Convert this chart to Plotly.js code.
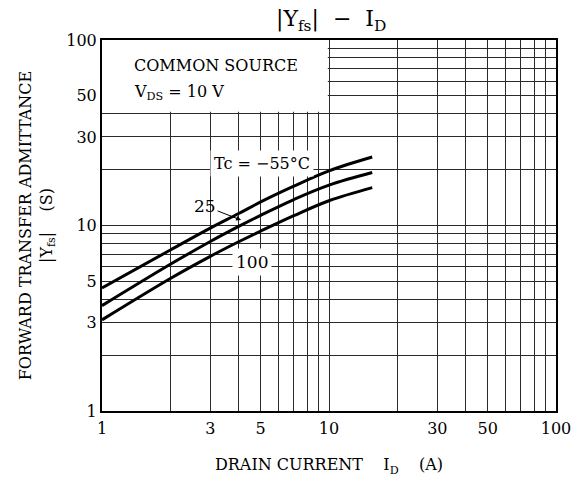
<!DOCTYPE html>
<html>
<head>
<meta charset="utf-8">
<script src="https://cdn.plot.ly/plotly-3.0.1.min.js"></script>
<style>html,body{margin:0;padding:0;background:#fff;}#chart{width:576px;height:481px;}</style>
</head>
<body>
<div id="chart"></div>
<script>
// Drain current ID (A)
const drainCurrent = [1, 2, 3, 4, 5, 7, 10, 15.5];
// |Yfs| (S) for each case temperature
const yfsMinus55 = [4.6, 7.38, 9.68, 11.6, 13.4, 16.3, 19.7, 23.4];
const yfs25      = [3.7, 6.18, 8.2, 9.89, 11.35, 13.8, 16.5, 19.3];
const yfs100     = [3.1, 5.18, 6.82, 8.17, 9.33, 11.3, 13.6, 16.0];

const gridVals = [1,2,3,4,5,6,7,8,9,10,20,30,40,50,60,70,80,90,100];
const tickLabels = ['1','','3','','5','','','','','10','','30','','50','','','','','100'];

const FONT = 'DejaVu Serif, Liberation Serif, serif';
const L = Math.log10;

const curveStyle = {color: '#000', width: 3, shape: 'spline', smoothing: 1};
const traces = [
  {x: drainCurrent, y: yfsMinus55, mode: 'lines', line: curveStyle, name: '-55', hoverinfo: 'skip'},
  {x: drainCurrent, y: yfs25, mode: 'lines', line: curveStyle, name: '25', hoverinfo: 'skip'},
  {x: drainCurrent, y: yfs100, mode: 'lines', line: curveStyle, name: '100', hoverinfo: 'skip'}
];

const axisCommon = {
  type: 'log',
  range: [0, 2],
  tickvals: gridVals,
  ticktext: tickLabels,
  showgrid: true,
  gridcolor: '#2a2a2a',
  gridwidth: 1,
  showline: true,
  linecolor: '#000',
  linewidth: 2,
  mirror: true,
  ticks: '',
  zeroline: false,
  tickfont: {family: FONT, size: 16, color: '#000'}
};

const layout = {
  width: 576, height: 481,
  margin: {l: 102, r: 20, t: 40, b: 70},
  paper_bgcolor: '#fff', plot_bgcolor: '#fff',
  showlegend: false,
  font: {family: FONT, color: '#000'},
  title: {
    text: '|Y<sub>fs</sub>|  −  I<sub>D</sub>',
    font: {family: FONT, size: 22, color: '#000'},
    x: 0.575, xanchor: 'center', y: 0.962, yanchor: 'middle'
  },
  xaxis: Object.assign({}, axisCommon, {
    title: {text: 'DRAIN CURRENT    I<sub>D</sub>    (A)', font: {family: FONT, size: 16, color: '#000'}, standoff: 22},
    ticklabelstandoff: 2
  }),
  yaxis: Object.assign({}, axisCommon, {
    title: {text: 'FORWARD TRANSFER ADMITTANCE<br>|Y<sub>fs</sub>|    (S)', font: {family: FONT, size: 16, color: '#000'}, standoff: 10}
  }),
  shapes: [
    {type: 'rect', xref: 'x', yref: 'y', x0: 1, x1: 9.88, y0: 41, y1: 100,
     fillcolor: '#fff', line: {width: 0}, layer: 'between'}
  ],
  annotations: [
    {text: 'COMMON SOURCE', x: 0.133, y: 1.862, xref: 'x', yref: 'y', xanchor: 'left', yanchor: 'middle',
     showarrow: false, font: {family: FONT, size: 16, color: '#000'}},
    {text: 'V<sub>DS</sub> = 10 V', x: 0.133, y: 1.718, xref: 'x', yref: 'y', xanchor: 'left', yanchor: 'middle',
     showarrow: false, font: {family: FONT, size: 16, color: '#000'}},
    {text: 'Tc = −55°C', x: 0.706, y: 1.332, xref: 'x', yref: 'y', xanchor: 'center', yanchor: 'middle',
     showarrow: false, bgcolor: '#fff', borderpad: 3, font: {family: FONT, size: 16, color: '#000'}},
    {text: '100', x: 0.661, y: 0.803, xref: 'x', yref: 'y', xanchor: 'center', yanchor: 'middle',
     showarrow: false, bgcolor: '#fff', borderpad: 3, font: {family: FONT, size: 17, color: '#000'}},
    {text: '25', x: L(4.1), y: L(10.7), xref: 'x', yref: 'y', ax: -36, ay: -14,
     showarrow: true, arrowhead: 2, arrowsize: 1, arrowwidth: 1, arrowcolor: '#000',
     font: {family: FONT, size: 17, color: '#000'}}
  ]
};

Plotly.newPlot('chart', traces, layout, {staticPlot: true, displayModeBar: false});
</script>
</body>
</html>
